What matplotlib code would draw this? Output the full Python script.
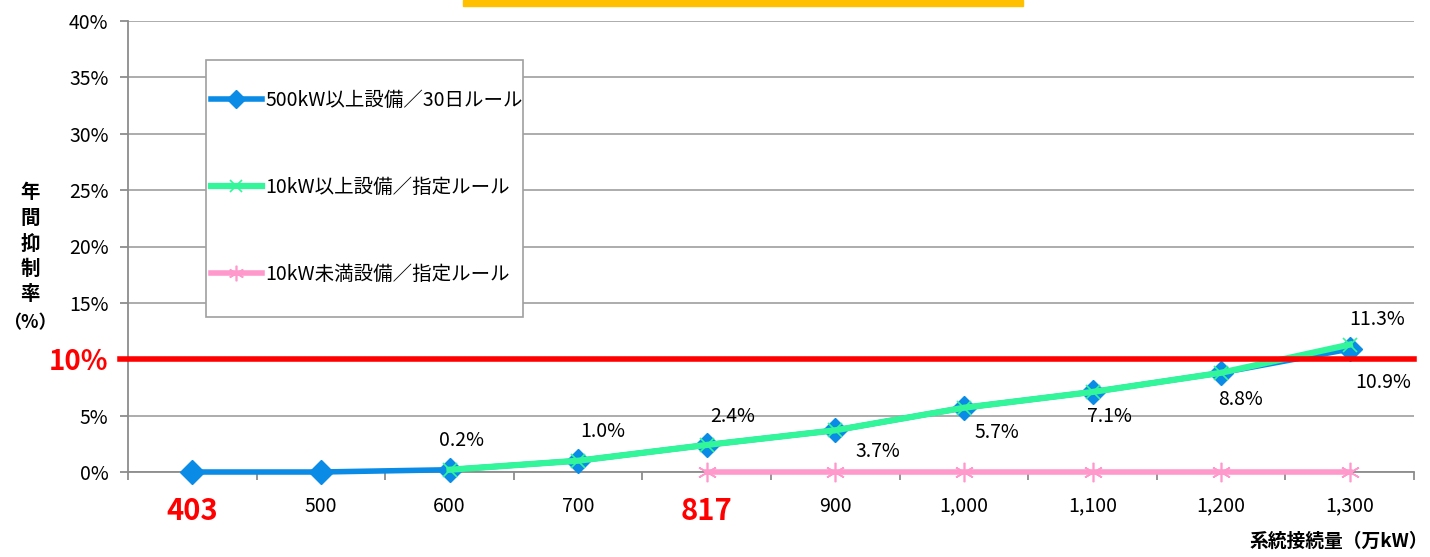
import numpy as np
import matplotlib
matplotlib.use('Agg')
import matplotlib.pyplot as plt
from matplotlib.patches import Rectangle

plt.rcParams['font.family'] = ['Noto Sans CJK JP', 'DejaVu Sans']

# 系統接続量（万kW）
categories = ['403', '500', '600', '700', '817', '900', '1,000', '1,100', '1,200', '1,300']
red_cats = ['403', '817']

# 年間抑制率（%）  None = no point
rate_500kw = [0.0, 0.0, 0.2, 1.0, 2.4, 3.7, 5.7, 7.1, 8.8, 10.9]
rate_10kw = [None, None, 0.2, 1.0, 2.4, 3.7, 5.7, 7.1, 8.8, 11.3]
rate_under10kw = [None, None, None, None, 0.0, 0.0, 0.0, 0.0, 0.0, 0.0]

names = ['500kW以上設備／30日ルール', '10kW以上設備／指定ルール', '10kW未満設備／指定ルール']
limit = 10.0

# data labels: (series, index, text)
labels = [(0, 2, '0.2%'), (0, 3, '1.0%'), (0, 4, '2.4%'), (0, 5, '3.7%'),
          (0, 6, '5.7%'), (0, 7, '7.1%'), (0, 8, '8.8%'), (0, 9, '10.9%'),
          (1, 9, '11.3%')]
label_offsets = [(12, 29), (25, 29), (26, 28), (43, -21), (33, -25),
                 (17, -25), (19, -27), (33, -33), (27, 25)]

blue = '#0A8CE6'
green = '#33F59A'
pink = '#FF99CC'
grey = '#8C8C8C'
fs = 14

def to_arr(v):
    return np.array([np.nan if a is None else a for a in v], dtype=float)

series = [to_arr(rate_500kw), to_arr(rate_10kw), to_arr(rate_under10kw)]
x = np.arange(len(categories))

fig = plt.figure(figsize=(14.3, 5.57), dpi=100)
ax = fig.add_axes([128 / 1430, 1 - 472 / 557, (1414 - 128) / 1430, (472 - 21) / 557])

l1, = ax.plot(x, series[0], color=blue, lw=4, marker='D', ms=12, zorder=3, clip_on=False)
l2, = ax.plot(x, series[1], color=green, lw=4.5, marker='x', ms=10, mew=1.2,
              mec=green, zorder=4, clip_on=False)
l3, = ax.plot(x, series[2], color=pink, lw=4, marker=(6, 2, 0), ms=14, mew=1.2,
              mec=pink, zorder=4, clip_on=False)
ax.axhline(limit, xmin=-0.006, xmax=1.0, color='#FF0000', lw=4, zorder=5, clip_on=False)

for (s, i, t), (dx, dy) in zip(labels, label_offsets):
    ax.annotate(t, (x[i], series[s][i]), xytext=(dx, dy), textcoords='offset pixels',
                ha='center', va='center', fontsize=fs, color='black', zorder=6)

ax.set_xlim(-0.5, len(categories) - 0.5)
ax.set_ylim(0, 40)

yt = [0, 5, 10, 15, 20, 25, 30, 35, 40]
ax.set_yticks(yt)
ax.set_yticklabels(['%d%%' % v for v in yt])
ax.yaxis.grid(True, color='#A6A6A6', lw=1.3)
ax.set_axisbelow(True)
for lab, v in zip(ax.get_yticklabels(), yt):
    if v == limit:
        lab.set_color('#FF0000')
        lab.set_fontsize(20)
        lab.set_fontweight('bold')
    else:
        lab.set_fontsize(fs)
ax.tick_params(axis='y', length=6, width=1.3, color=grey, pad=8)

ax.set_xticks(x)
ax.set_xticklabels(categories)
ax.set_xticks(np.arange(len(categories) + 1) - 0.5, minor=True)
ax.tick_params(axis='x', which='major', length=0, pad=17)
ax.tick_params(axis='x', which='minor', length=6, width=1.3, color=grey)
for lab in ax.get_xticklabels():
    if lab.get_text() in red_cats:
        lab.set_color('#FF0000')
        lab.set_fontsize(21)
        lab.set_fontweight('bold')
    else:
        lab.set_fontsize(fs)

for side in ['top', 'right']:
    ax.spines[side].set_visible(False)
for side in ['left', 'bottom']:
    ax.spines[side].set_color(grey)
    ax.spines[side].set_linewidth(1.3)

# y axis title, stacked vertically
for k, ch in enumerate('年間抑制率'):
    fig.text(30 / 1430, 1 - (193 + 25.5 * k) / 557, ch, ha='center', va='center',
             fontsize=fs, fontweight='bold')
fig.text(30 / 1430, 1 - 323 / 557, '（%）', ha='center', va='center',
         fontsize=fs - 1, fontweight='bold')

fig.text(1428 / 1430, 1 - 541 / 557, '系統接続量（万kW）', ha='right', va='center',
         fontsize=fs - 0.5, fontweight='bold')

# yellow title box edge at top
fig.patches.append(Rectangle((463 / 1430, 1 - 6 / 557), (1023 - 463) / 1430, 6 / 557,
                             transform=fig.transFigure, color='#FFC000', zorder=1))

# legend box
fig.patches.append(Rectangle((206 / 1430, 1 - 317 / 557), 317 / 1430, 257 / 557,
                             transform=fig.transFigure, facecolor='white',
                             edgecolor='#A0A0A0', lw=1.2, zorder=2))
fig.legend([l1, l2, l3], names, loc='upper left', bbox_to_anchor=(211 / 1430, 1 - 90 / 557),
           frameon=False, fontsize=fs, handlelength=2.6, handletextpad=0.2,
           labelspacing=3.4, borderaxespad=0, borderpad=0, markerscale=0.8)

fig.savefig('out.png', dpi=100)
